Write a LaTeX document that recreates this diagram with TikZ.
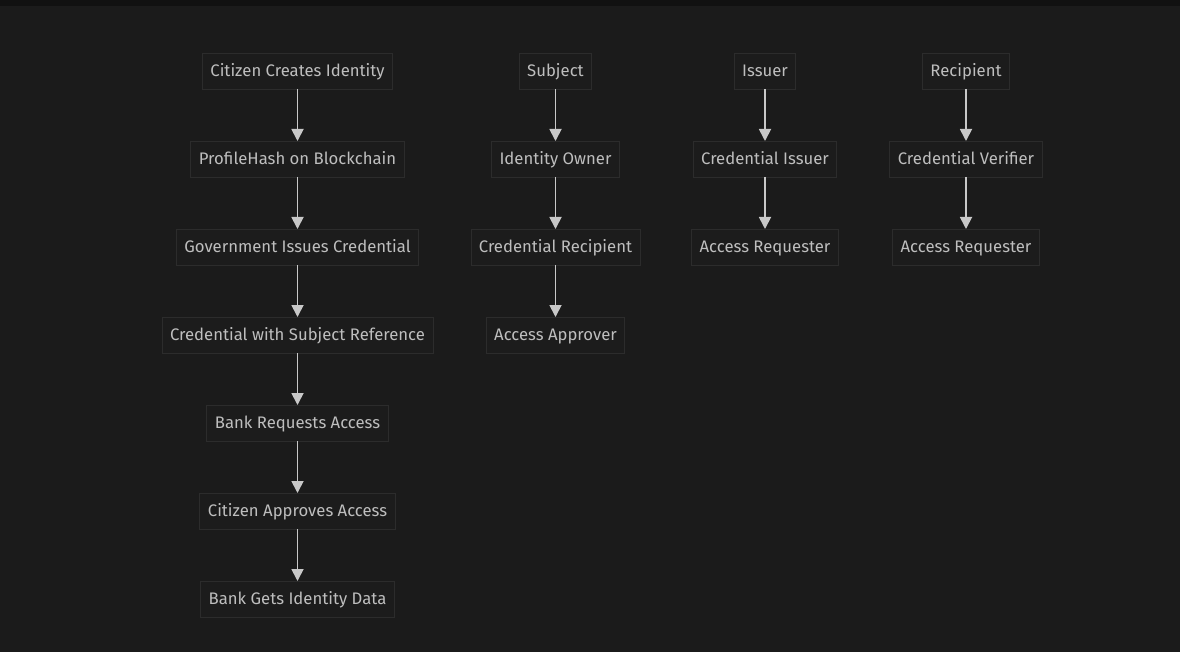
\documentclass[tikz,border=0pt]{standalone}
\usepackage{fontspec}
\setmainfont{Fira Sans}
\usetikzlibrary{arrows.meta,positioning}
\definecolor{bgdark}{HTML}{1B1B1B}
\definecolor{topbar}{HTML}{111111}
\definecolor{boxfill}{HTML}{1C1C1C}
\definecolor{boxline}{HTML}{2C2C2C}
\definecolor{boxtext}{HTML}{BEBEBE}
\definecolor{flowline}{HTML}{C8C8C8}
\tikzset{
  stepbox/.style={draw=boxline,fill=boxfill,text=boxtext,line width=0.8pt,
    minimum height=36pt,inner xsep=8pt,inner ysep=0pt,outer sep=0pt,
    text height=13pt,text depth=2pt,
    font=\fontsize{16.7}{19}\selectfont},
  flow/.style={-{Triangle[length=12pt,width=12pt]},line width=1.8pt,color=flowline}
}

\begin{document}
\begin{tikzpicture}[x=1pt,y=-1pt,node distance=52pt and 0pt]
  \fill[bgdark] (0,0) rectangle (1180,652);
  \fill[topbar] (0,0) rectangle (1180,6);
  \useasboundingbox (0,0) rectangle (1180,652);

  % citizen flow
  \node[stepbox] (create) at (297.5,71) {Citizen Creates Identity};
  \node[stepbox,below=of create] (hash) {ProfileHash on Blockchain};
  \node[stepbox,below=of hash] (issue) {Government Issues Credential};
  \node[stepbox,below=of issue] (cred) {Credential with Subject Reference};
  \node[stepbox,below=of cred] (request) {Bank Requests Access};
  \node[stepbox,below=of request] (approve) {Citizen Approves Access};
  \node[stepbox,below=of approve] (gets) {Bank Gets Identity Data};

  % roles
  \node[stepbox] (subject) at (555.5,71) {Subject};
  \node[stepbox,below=of subject] (owner) {Identity Owner};
  \node[stepbox,below=of owner] (credrec) {Credential Recipient};
  \node[stepbox,below=of credrec] (approver) {Access Approver};

  \node[stepbox] (issuer) at (765,71) {Issuer};
  \node[stepbox,below=of issuer] (credissuer) {Credential Issuer};
  \node[stepbox,below=of credissuer] (reqA) {Access Requester};

  \node[stepbox] (recipient) at (966,71) {Recipient};
  \node[stepbox,below=of recipient] (verifier) {Credential Verifier};
  \node[stepbox,below=of verifier] (reqB) {Access Requester};

  \foreach \a/\b in {create/hash,hash/issue,issue/cred,cred/request,
    request/approve,approve/gets,subject/owner,owner/credrec,credrec/approver,
    issuer/credissuer,credissuer/reqA,recipient/verifier,verifier/reqB}
    \draw[flow] (\a) -- (\b);
\end{tikzpicture}
\end{document}
